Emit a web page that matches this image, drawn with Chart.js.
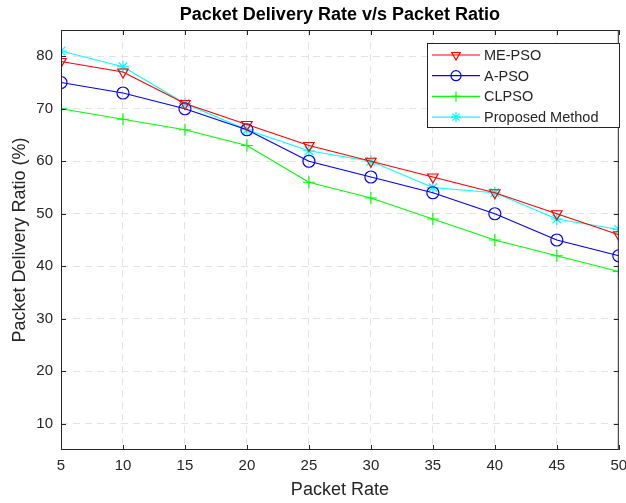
<!DOCTYPE html>
<html>
<head>
<meta charset="utf-8">
<script src="https://cdn.jsdelivr.net/npm/chart.js@4.4.0/dist/chart.umd.min.js"></script>
<style>
  html, body { margin: 0; padding: 0; background: #fff; }
  #wrap { width: 626px; height: 503px; }
</style>
</head>
<body>
<div id="wrap"><canvas id="pdrChart" width="626" height="503"></canvas></div>
<script>
// data
const packetRate = [5, 10, 15, 20, 25, 30, 35, 40, 45, 50];
const mePso    = [79, 77, 71, 67, 63, 60, 57, 54, 50, 46];
const aPso     = [75, 73, 70, 66, 60, 57, 54, 50, 45, 42];
const clPso    = [70, 68, 66, 63, 56, 53, 49, 45, 42, 39];
const proposed = [81, 78, 71, 66, 62, 60, 55, 54, 49, 47];
const xTicks = [5, 10, 15, 20, 25, 30, 35, 40, 45, 50];
const yTicks = [10, 20, 30, 40, 50, 60, 70, 80];
const chartTitle = 'Packet Delivery Rate v/s Packet Ratio';

const toPts = ys => packetRate.map((x, i) => ({ x: x, y: ys[i] }));
const axisColor = '#262626';
const font = 'Liberation Sans, Arial, Helvetica, sans-serif';

function series(label, ys, color, style, rot) {
    return {
        label: label,
        data: toPts(ys),
        borderColor: color,
        backgroundColor: color,
        pointBorderColor: color,
        pointBackgroundColor: 'rgba(0,0,0,0)',
        pointStyle: style,
        pointRotation: rot || 0,
        pointRadius: 6,
        pointBorderWidth: 1.2,
        borderWidth: 1.2,
        tension: 0
    };
}

// title over the axes, box, inward ticks and legend, matlab style
const boxPlugin = {
    id: 'boxPlugin',
    afterDraw(chart) {
        const c = chart.ctx, a = chart.chartArea;
        const xs = chart.scales.x, ys = chart.scales.y;
        c.save();
        c.fillStyle = '#000';
        c.font = 'bold 18px ' + font;
        c.textAlign = 'center';
        c.textBaseline = 'middle';
        c.fillText(chartTitle, (a.left + a.right) / 2, 15);
        c.textAlign = 'left';

        c.strokeStyle = axisColor;
        c.lineWidth = 1;
        c.strokeRect(a.left + 0.5, a.top + 0.5, a.right - a.left - 1, a.bottom - a.top - 1);
        c.beginPath();
        xTicks.forEach(v => {
            const px = Math.round(xs.getPixelForValue(v)) + 0.5;
            c.moveTo(px, a.bottom); c.lineTo(px, a.bottom - 5);
            c.moveTo(px, a.top); c.lineTo(px, a.top + 5);
        });
        yTicks.forEach(v => {
            const py = Math.round(ys.getPixelForValue(v)) + 0.5;
            c.moveTo(a.left, py); c.lineTo(a.left + 5, py);
            c.moveTo(a.right, py); c.lineTo(a.right - 5, py);
        });
        c.stroke();

        // legend box
        const lx = 427, ly = 43, lw = 192, lh = 84;
        c.fillStyle = '#fff';
        c.fillRect(lx, ly, lw, lh);
        c.strokeStyle = '#262626';
        c.strokeRect(lx + 0.5, ly + 0.5, lw, lh);
        c.font = '14.5px ' + font;
        chart.data.datasets.forEach((ds, i) => {
            const y = ly + 12 + i * 20.7;
            c.strokeStyle = ds.borderColor;
            c.lineWidth = 1.2;
            c.beginPath(); c.moveTo(lx + 5, y); c.lineTo(lx + 53, y); c.stroke();
            c.fillStyle = 'rgba(0,0,0,0)';
            Chart.helpers.drawPoint(c, {
                pointStyle: ds.pointStyle, rotation: ds.pointRotation,
                radius: 5, borderWidth: 1.2
            }, lx + 29, y);
            c.fillStyle = axisColor;
            c.fillText(ds.label, lx + 57, y + 1);
        });
        c.restore();
    }
};

new Chart(document.getElementById('pdrChart'), {
    type: 'line',
    data: {
        datasets: [
            series('ME-PSO', mePso, '#ff0000', 'triangle', 180),
            series('A-PSO', aPso, '#0000ff', 'circle'),
            series('CLPSO', clPso, '#00ff00', 'cross'),
            series('Proposed Method', proposed, '#00ffff', 'star')
        ]
    },
    options: {
        responsive: false,
        animation: false,
        layout: { padding: { left: 0, right: 6, top: 30, bottom: 0 } },
        plugins: {
            legend: { display: false },
            tooltip: { enabled: false },
            title: { display: false }
        },
        scales: {
            x: {
                type: 'linear',
                min: 5, max: 50,
                afterBuildTicks: s => { s.ticks = xTicks.map(v => ({ value: v })); },
                afterFit: s => { s.height = 53; s.paddingLeft = 0; s.paddingRight = 0; },
                grid: { color: '#e3e3e3', drawTicks: false },
                border: { display: false, dash: [7, 5] },
                ticks: { color: axisColor, font: { family: font, size: 15 }, padding: 7, maxRotation: 0 },
                title: { display: true, text: 'Packet Rate', color: axisColor,
                         font: { family: font, size: 18 }, padding: { top: 0, bottom: 2 } }
            },
            y: {
                min: 5, max: 85,
                afterBuildTicks: s => { s.ticks = yTicks.map(v => ({ value: v })); },
                afterFit: s => { s.width = 61; s.paddingTop = 0; s.paddingBottom = 0; },
                grid: { color: '#e3e3e3', drawTicks: false },
                border: { display: false, dash: [7, 5] },
                ticks: { color: axisColor, font: { family: font, size: 15 }, padding: 8 },
                title: { display: true, text: 'Packet Delivery Ratio (%)', color: axisColor,
                         font: { family: font, size: 18 }, padding: { top: 9, bottom: 0 } }
            }
        }
    },
    plugins: [boxPlugin]
});
</script>
</body>
</html>
